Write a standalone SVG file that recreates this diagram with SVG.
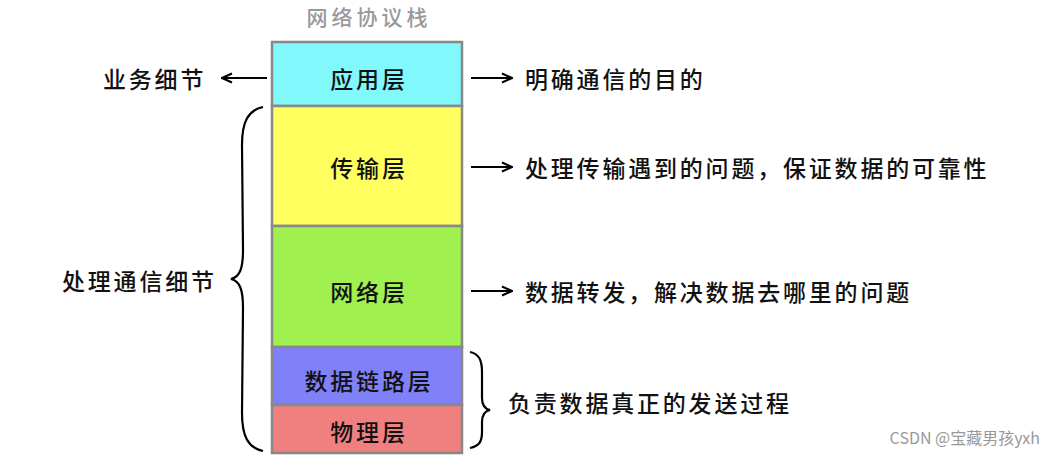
<svg xmlns="http://www.w3.org/2000/svg" width="1055" height="455" viewBox="0 0 1055 455">
<defs>
<style>
.t{font-family:"Noto Sans CJK SC","Noto Sans",sans-serif;font-size:23px;font-weight:500;fill:#111;letter-spacing:2.8px;dominant-baseline:central}
.l{stroke:#888;stroke-width:2.5}
.c{fill:none;stroke:#000;stroke-width:2.2}
.b{fill:none;stroke:#000;stroke-width:2.2}
</style>
<marker id="ah" viewBox="0 0 12 12" refX="11" refY="6" markerWidth="12" markerHeight="12" markerUnits="userSpaceOnUse" orient="auto">
<path d="M1,1.5 L11,6 L1,10.5" fill="none" stroke="#000" stroke-width="2.2"/>
</marker>
</defs>
<rect width="1055" height="455" fill="#fff"/>
<text x="369" y="16" text-anchor="middle" class="t" style="fill:#999;font-size:21px;letter-spacing:4px">网络协议栈</text>
<g id="app"><rect x="272" y="42" width="190" height="64" fill="#80F8FC" class="l"/><text x="369" y="78" text-anchor="middle" class="t">应用层</text></g>
<g id="transport"><rect x="272" y="106" width="190" height="120" fill="#FFFF60" class="l"/><text x="369" y="167" text-anchor="middle" class="t">传输层</text></g>
<g id="network"><rect x="272" y="226" width="190" height="121" fill="#A0F050" class="l"/><text x="369" y="291" text-anchor="middle" class="t">网络层</text></g>
<g id="datalink"><rect x="272" y="347" width="190" height="58" fill="#8080F8" class="l"/><text x="369" y="380" text-anchor="middle" class="t">数据链路层</text></g>
<g id="physical"><rect x="272" y="405" width="190" height="48" fill="#F08080" class="l"/><text x="369" y="431" text-anchor="middle" class="t">物理层</text></g>
<g id="labels">
<text x="103" y="78" class="t">业务细节</text>
<text x="62" y="280" class="t">处理通信细节</text>
<text x="525" y="78" class="t">明确通信的目的</text>
<text x="525" y="167" class="t">处理传输遇到的问题，保证数据的可靠性</text>
<text x="525" y="291" class="t">数据转发，解决数据去哪里的问题</text>
<text x="508" y="402" class="t">负责数据真正的发送过程</text>
</g>
<g id="connectors">
<line x1="267" y1="78" x2="222" y2="78" class="c" marker-end="url(#ah)"/>
<line x1="471" y1="78" x2="512" y2="78" class="c" marker-end="url(#ah)"/>
<line x1="471" y1="167" x2="512" y2="167" class="c" marker-end="url(#ah)"/>
<line x1="471" y1="291" x2="512" y2="291" class="c" marker-end="url(#ah)"/>
<path class="b" d="M263,107 C248,110 242,122 242,145 L243,250 C243,268 240,277 231,279 C240,281 243,290 243,308 L242,413 C242,436 248,448 263,451"/>
<path class="b" d="M470,352 C479,354 482,360 482,372 L482,398 C482,405 485,409 490,410 C485,411 482,415 482,422 L482,432 C482,442 479,446 470,448"/>
</g>
<text x="1040" y="437" text-anchor="end" style="font-family:'Noto Sans CJK SC',sans-serif;font-size:16px;fill:#999;dominant-baseline:central">CSDN @宝藏男孩yxh</text>
</svg>
